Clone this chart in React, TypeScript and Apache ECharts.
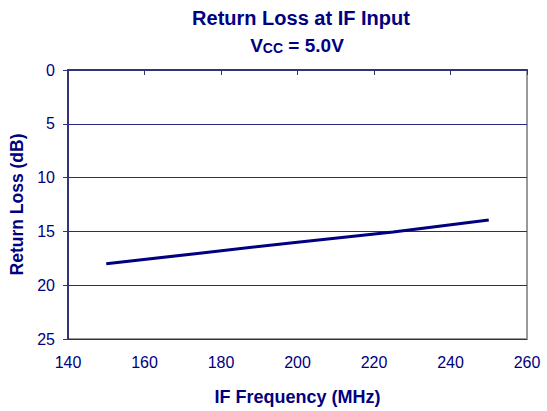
import React, { useEffect, useRef } from "react";
import * as echarts from "echarts";

const frequencies = [150, 175, 200, 225, 250];
const returnLoss = [18.0, 17.0, 16.0, 15.05, 13.95];
const xTicks = { min: 140, max: 260, interval: 20 };
const yTicks = { min: 0, max: 25, interval: 5 };

const NAVY = "#000080";
const FONT = "Arial, 'Liberation Sans', Helvetica, sans-serif";

export default function App() {
  const ref = useRef<HTMLDivElement>(null);
  useEffect(() => {
    if (!ref.current) return;
    const chart = echarts.init(ref.current, undefined, { renderer: "svg" });
    chart.setOption({
      animation: false,
      backgroundColor: "#ffffff",
      title: [
        {
          text: "Return Loss at IF Input",
          left: 296,
          textAlign: "center",
          top: 3,
          textStyle: { color: NAVY, fontFamily: FONT, fontWeight: "bold", fontSize: 20 },
        },
        {
          text: "{a|V}{b|CC}{a| = 5.0V}",
          left: 292,
          textAlign: "center",
          top: 31,
          textStyle: {
            rich: {
              a: {
                color: NAVY,
                fontFamily: FONT,
                fontWeight: "bold",
                fontSize: 19,
                lineHeight: 19,
                verticalAlign: "top",
                padding: [0, 0, 5, 0],
              },
              b: {
                color: NAVY,
                fontFamily: FONT,
                fontWeight: "bold",
                fontSize: 14,
                lineHeight: 14,
                verticalAlign: "bottom",
              },
            },
          },
        },
      ],
      grid: {
        left: 68,
        right: 20,
        top: 70,
        bottom: 72,
        show: true,
        borderColor: "#999999",
        borderWidth: 2,
        backgroundColor: "transparent",
      },
      xAxis: {
        type: "value",
        min: xTicks.min,
        max: xTicks.max,
        interval: xTicks.interval,
        name: "IF Frequency (MHz)",
        nameLocation: "middle",
        nameGap: 49,
        nameTextStyle: { color: NAVY, fontFamily: FONT, fontWeight: "bold", fontSize: 18 },
        axisLine: { show: true, lineStyle: { color: "#333377", width: 2 } },
        axisTick: { show: true, length: 5, lineStyle: { color: "#333377", width: 1 } },
        axisLabel: { color: NAVY, fontFamily: FONT, fontSize: 16, margin: 15 },
        splitLine: { show: false },
      },
      yAxis: {
        type: "value",
        inverse: true,
        min: yTicks.min,
        max: yTicks.max,
        interval: yTicks.interval,
        name: "Return Loss (dB)",
        nameLocation: "middle",
        nameRotate: 90,
        nameGap: 40,
        nameTextStyle: { color: NAVY, fontFamily: FONT, fontWeight: "bold", fontSize: 17.5 },
        axisLine: { show: true, lineStyle: { color: "#333377", width: 2 } },
        axisTick: { show: true, length: 5, lineStyle: { color: "#333377", width: 1 } },
        axisLabel: { color: NAVY, fontFamily: FONT, fontSize: 16, margin: 13 },
        splitLine: { show: true, lineStyle: { color: "#2a2a85", width: 1 } },
      },
      series: [
        {
          type: "line",
          data: frequencies.map((f, i) => [f, returnLoss[i]]),
          showSymbol: false,
          symbol: "none",
          lineStyle: { color: NAVY, width: 3 },
        },
      ],
    });
    return () => chart.dispose();
  }, []);
  return (
    <div
      ref={ref}
      style={{ position: "fixed", left: 0, top: 0, width: 547, height: 411 }}
    />
  );
}
